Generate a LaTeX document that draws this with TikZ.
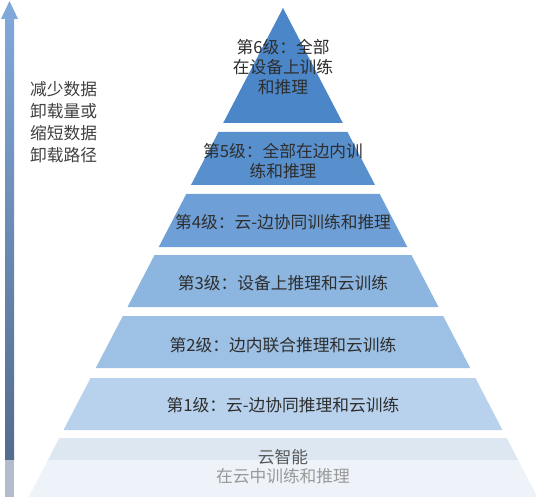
\documentclass[tikz,border=0pt]{standalone}
\usepackage{fontspec}
\newfontfamily\cjk{Noto Sans CJK SC}
\usetikzlibrary{calc,positioning}
\definecolor{lvsix}{RGB}{74,134,200}
\definecolor{lvfive}{RGB}{88,143,205}
\definecolor{lvfour}{RGB}{110,160,215}
\definecolor{lvthree}{RGB}{140,181,224}
\definecolor{lvtwo}{RGB}{157,192,229}
\definecolor{lvone}{RGB}{184,209,237}
\definecolor{cloudtop}{RGB}{221,231,242}
\definecolor{cloudlow}{RGB}{238,243,250}
\definecolor{arrowtop}{RGB}{128,168,216}
\definecolor{arrowlow}{RGB}{84,108,142}
\newcommand{\PyrBand}[3]% #1=top y, #2=bottom y, #3=colour
{\fill [#3] ({283-0.52*(#1-8)},#1) -- ({283+0.52*(#1-8)},#1)
   -- ({283+0.52*(#2-8)},#2) -- ({283-0.52*(#2-8)},#2) -- cycle;
}
\tikzset{
  lvltext/.style={font=\cjk\fontsize{16.8}{20}\selectfont, text=black!82, align=center, inner sep=0pt},
  sidetext/.style={font=\cjk\fontsize{16.8}{22}\selectfont, text=black!75, align=left, inner sep=0pt}
}
\begin{document}
\begin{tikzpicture}[x=1bp,y=-1bp]
  \useasboundingbox (0,0) rectangle (536,500);
  \fill [white] (0,0) rectangle (536,500);

  % arrow on the left
  \shade [top color=arrowtop, bottom color=arrowlow] (5,18) rectangle (14,460);
  \fill [arrowlow!45!white] (5,460) rectangle (14,497);
  \fill [arrowtop] (1,19) -- (9.5,1) -- (18,19) -- cycle;
  \node [sidetext, anchor=north west] (side) at (30,81) {减少数据\\卸载量或\\缩短数据\\卸载路径};

  % pyramid
  \coordinate (apex) at (283,8);
  \fill [lvsix] (apex) -- ({283+0.52*115},123) -- ({283-0.52*115},123) -- cycle;
  \foreach \ytop/\ybot/\col in {132/185/lvfive,194/247/lvfour,255/307/lvthree,316/368/lvtwo,378/430/lvone,438/460/cloudtop,460/497/cloudlow}
    {\PyrBand{\ytop}{\ybot}{\col}}

  \node [lvltext] (l6) at (283,67) {第6级：全部\\在设备上训练\\和推理};
  \node [lvltext] (l5) at (283,161) {第5级：全部在边内训\\练和推理};
  \node [lvltext] (l4) at (283,222) {第4级：云-边协同训练和推理};
  \node [lvltext] (l3) at (283,283) {第3级：设备上推理和云训练};
  \node [lvltext] (l2) at (283,345) {第2级：边内联合推理和云训练};
  \node [lvltext] (l1) at (283,405) {第1级：云-边协同推理和云训练};
  \node [lvltext, text=black!65] (l0) at (283,457) {云智能};
  \node [lvltext, text=black!40, below=3bp of l0] (l0b) {在云中训练和推理};
\end{tikzpicture}
\end{document}
